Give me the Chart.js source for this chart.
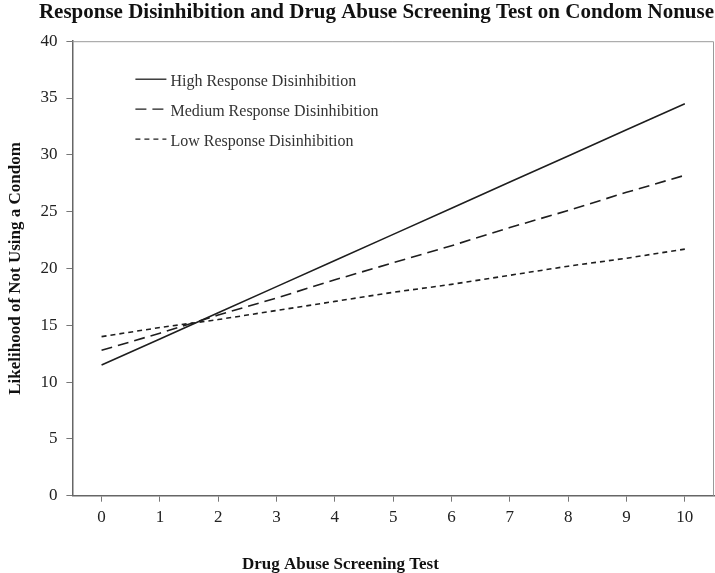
<!DOCTYPE html>
<html>
<head>
<meta charset="utf-8">
<script src="https://cdn.jsdelivr.net/npm/chart.js@4"></script>
<style>
  html, body { margin: 0; padding: 0; background: #fff; }
  #wrap { width: 715px; height: 573px; }
</style>
</head>
<body>
<div id="wrap"><canvas id="chart" width="715" height="573"></canvas></div>
<script>
// Data
const dastScores = ['0', '1', '2', '3', '4', '5', '6', '7', '8', '9', '10'];
const highRD   = [11.5, 13.8, 16.1, 18.4, 20.7, 23.0, 25.3, 27.6, 29.9, 32.2, 34.5];
const mediumRD = [12.8, 14.3, 15.9, 17.4, 19.0, 20.5, 22.0, 23.6, 25.1, 26.7, 28.2];
const lowRD    = [14.0, 14.8, 15.5, 16.3, 17.1, 17.9, 18.6, 19.4, 20.2, 20.9, 21.7];

const SERIF = "'Liberation Serif', 'Times New Roman', serif";
const INK = '#1e1e1e';
const X_TITLE = 'Drug Abuse Screening Test';

// ── Plot frame, in-chart legend, off-centre x title ─────────────────────────
const framePlugin = {
  id: 'frame',
  beforeDatasetsDraw(chart) {
    const { ctx, chartArea: a } = chart;
    ctx.save();
    ctx.strokeStyle = '#9a9a9a';
    ctx.lineWidth = 1;
    ctx.beginPath();
    ctx.moveTo(a.left, a.top + 0.5);
    ctx.lineTo(a.right - 0.5, a.top + 0.5);
    ctx.lineTo(a.right - 0.5, a.bottom);
    ctx.stroke();
    ctx.restore();
  }
};

const legendPlugin = {
  id: 'insideLegend',
  afterDatasetsDraw(chart) {
    const { ctx, chartArea: a } = chart;
    const x0 = a.left + 63;
    const rowGap = 30;
    ctx.save();
    ctx.font = `16px ${SERIF}`;
    ctx.textBaseline = 'middle';
    chart.data.datasets.forEach((ds, i) => {
      const y = a.top + 38 + i * rowGap;
      ctx.strokeStyle = ds.borderColor;
      ctx.lineWidth = 1.3;
      ctx.setLineDash(ds.borderDash || []);
      ctx.beginPath();
      ctx.moveTo(x0, y);
      ctx.lineTo(x0 + 31, y);
      ctx.stroke();
      ctx.setLineDash([]);
      ctx.fillStyle = '#333';
      ctx.fillText(ds.label, x0 + 35, y + 3);
    });
    ctx.restore();
  }
};

const xTitlePlugin = {
  id: 'xTitle',
  afterDraw(chart) {
    const { ctx, chartArea: a } = chart;
    const sx = chart.scales.x;
    ctx.save();
    ctx.font = `bold 17px ${SERIF}`;
    ctx.fillStyle = '#111';
    ctx.textAlign = 'center';
    ctx.textBaseline = 'middle';
    ctx.fillText(X_TITLE, a.left + 268, sx.bottom - 8);
    ctx.restore();
  }
};

function lineSet(label, data, dash) {
  return {
    label,
    data,
    borderColor: INK,
    backgroundColor: INK,
    borderWidth: 1.6,
    borderDash: dash,
    pointRadius: 0,
    tension: 0,
    fill: false
  };
}

new Chart(document.getElementById('chart').getContext('2d'), {
  type: 'line',
  data: {
    labels: dastScores,
    datasets: [
      lineSet('High Response Disinhibition', highRD, []),
      lineSet('Medium Response Disinhibition', mediumRD, [11, 6]),
      lineSet('Low Response Disinhibition', lowRD, [5, 4])
    ]
  },
  options: {
    responsive: false,
    animation: false,
    layout: { padding: { left: 5, right: 1, top: 0, bottom: 0 } },
    plugins: {
      legend: { display: false },
      tooltip: { enabled: false },
      title: {
        display: true,
        text: 'Response Disinhibition and Drug Abuse Screening Test on Condom Nonuse',
        color: '#111',
        font: { family: SERIF, size: 21, weight: 'bold' },
        padding: { top: 0, bottom: 16 },
        align: 'end'
      }
    },
    scales: {
      x: {
        type: 'category',
        offset: true,
        grid: {
          offset: false,
          drawOnChartArea: false,
          drawTicks: true,
          tickLength: 6,
          color: '#777'
        },
        border: { color: '#666', width: 1.5 },
        ticks: {
          color: '#222',
          padding: 6,
          maxRotation: 0,
          font: { family: SERIF, size: 17 }
        },
        title: {
          // space holder; text is drawn by xTitlePlugin
          display: true,
          text: X_TITLE,
          color: 'rgba(0,0,0,0)',
          font: { family: SERIF, size: 17, weight: 'bold' },
          padding: { top: 18.5, bottom: 0 }
        }
      },
      y: {
        min: 0,
        max: 40,
        grid: {
          drawOnChartArea: false,
          drawTicks: true,
          tickLength: 6,
          color: '#777'
        },
        border: { color: '#666', width: 1.5 },
        ticks: {
          stepSize: 5,
          color: '#222',
          padding: 9,
          font: { family: SERIF, size: 17 }
        },
        title: {
          display: true,
          text: 'Likelihood of Not Using a Condom',
          color: '#111',
          font: { family: SERIF, size: 17, weight: 'bold' },
          padding: { top: 0, bottom: 6 }
        }
      }
    }
  },
  plugins: [framePlugin, legendPlugin, xTitlePlugin]
});
</script>
</body>
</html>
